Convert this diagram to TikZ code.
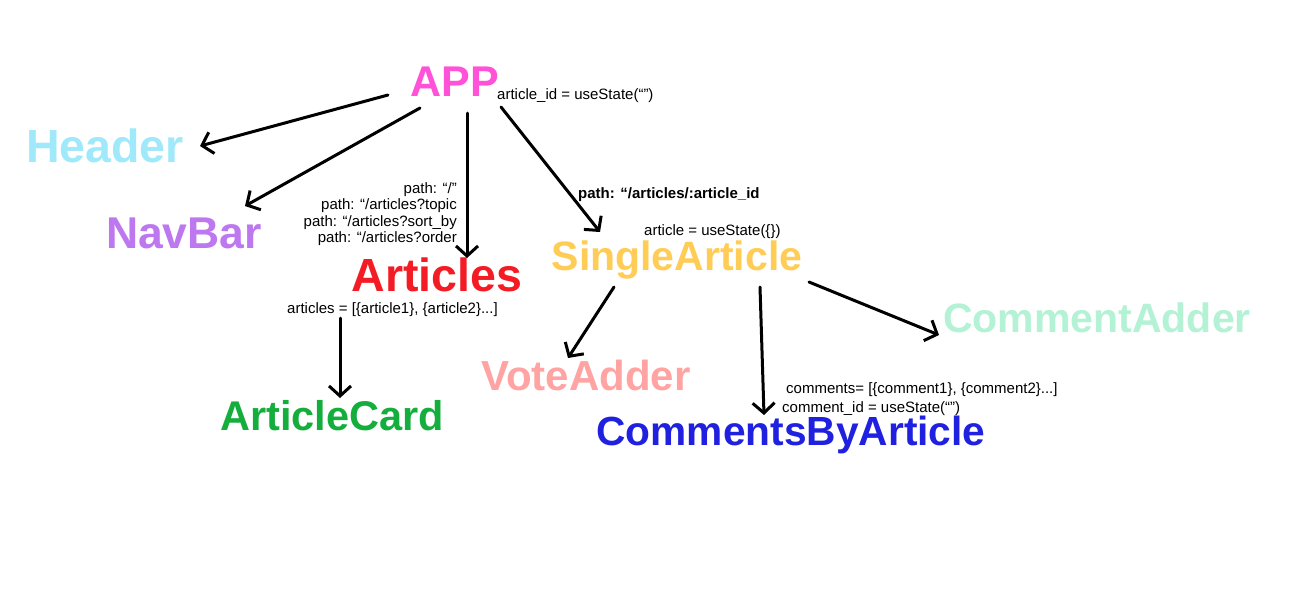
\documentclass[tikz,border=0pt]{standalone}
\usepackage{fontspec}
\setmainfont{Liberation Sans}
\usetikzlibrary{arrows.meta, positioning}

\definecolor{appcol}{HTML}{FF52D9}
\definecolor{headercol}{HTML}{A0E9FA}
\definecolor{navcol}{HTML}{BD78EF}
\definecolor{articlescol}{HTML}{F41C24}
\definecolor{cardcol}{HTML}{14AE3C}
\definecolor{singlecol}{HTML}{FFCC55}
\definecolor{votecol}{HTML}{FFA3A3}
\definecolor{commentscol}{HTML}{2020E0}
\definecolor{addercol}{HTML}{B3F2D4}

\begin{document}
\begin{tikzpicture}[
  x=1pt, y=-1pt,
  comp/.style={inner sep=0pt, anchor=base, font=\fontsize{#1}{#1}\selectfont\bfseries},
  comp/.default=42,
  state/.style={inner sep=0pt, anchor=base west, font=\fontsize{15}{16.5}\selectfont},
  arrow/.style={-{Straight Barb[length=10pt, width=22pt, line width=3pt]}, line width=3pt, line cap=round, line join=round}
]
  \fill[white] (0,0) rectangle (1293,595);
  \path[use as bounding box] (0,0) rectangle (1293,595);

  % Components
  \node[comp=43, text=appcol] (app) at (455,96) {APP};
  \node[comp=46.5, text=headercol] (header) at (105,162) {Header};
  \node[comp=44.5, text=navcol] (navbar) at (184,248) {NavBar};
  \node[comp=46.5, text=articlescol] (articles) at (437,291) {Articles};
  \node[comp=41.5, text=cardcol] (articlecard) at (332,430) {ArticleCard};
  \node[comp=41, text=singlecol] (single) at (677,270) {SingleArticle};
  \node[comp, text=votecol] (voteadder) at (586,390) {VoteAdder};
  \node[comp=40.7, text=commentscol] (comments) at (791,445) {CommentsByArticle};
  \node[comp=41, text=addercol] (commentadder) at (1097,332) {CommentAdder};

  % State and routes
  \node[state] (appstate) at (497,99) {article\_id = useState(“”)};
  \node[state, anchor=north east, align=right] (paths) at (457,182)
    {path: “/”\\path: “/articles?topic\\path: “/articles?sort\_by\\path: “/articles?order};
  \node[state] (articlesstate) at (287,313) {articles = [\{article1\}, \{article2\}...]};
  \node[state, font=\fontsize{15}{16.5}\selectfont\bfseries] (singlepath) at (578,198) {path: “/articles/:article\_id};
  \node[state] (singlestate) at (644,235) {article = useState(\{\})};
  \node[state] (commentsstate) at (786,393) {comments= [\{comment1\}, \{comment2\}...]};
  \node[state] (commentid) at (782,412) {comment\_id = useState(“”)};

  % Connections
  \draw[arrow] ([shift={(-67,-1)}]app.base) -- ([shift={(95,-16)}]header.base);
  \draw[arrow] ([shift={(-35,12)}]app.base) -- ([shift={(61,-42)}]navbar.base);
  \draw[arrow] ([shift={(12,17)}]app.base) -- ([shift={(30,-33)}]articles.base);
  \draw[arrow] ([shift={(46,11)}]app.base) -- ([shift={(-77,-38)}]single.base);
  \draw[arrow] ([shift={(-97,27)}]articles.base) -- ([shift={(8,-32)}]articlecard.base);
  \draw[arrow] ([shift={(-63,17)}]single.base) -- ([shift={(-18,-32)}]voteadder.base);
  \draw[arrow] ([shift={(83,17)}]single.base) -- ([shift={(-27,-30)}]comments.base);
  \draw[arrow] ([shift={(132,12)}]single.base) -- ([shift={(-158,3)}]commentadder.base);
\end{tikzpicture}
\end{document}
